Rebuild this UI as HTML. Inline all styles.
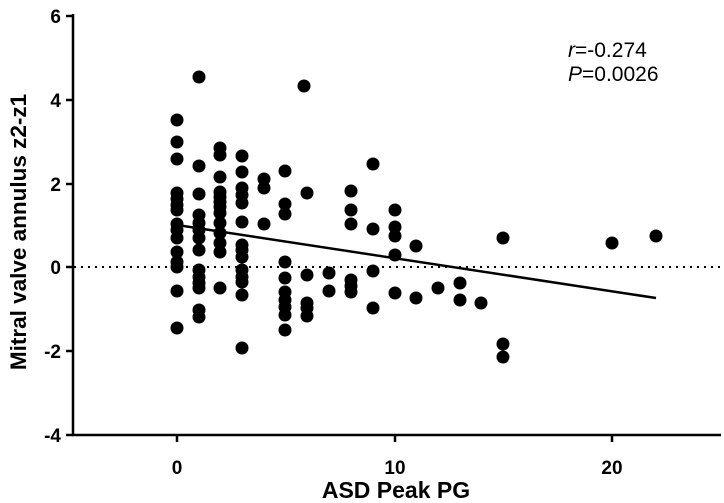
<!DOCTYPE html>
<html><head><meta charset="utf-8"><style>
html,body{margin:0;padding:0;background:#fff;}
svg{display:block;}
text{font-family:"Liberation Sans",Arial,sans-serif;}
</style></head><body>
<svg width="724" height="503" viewBox="0 0 724 503" xmlns="http://www.w3.org/2000/svg">
<g stroke="#000" stroke-width="2.5" fill="none">
<line x1="73" y1="14" x2="73" y2="436"/>
<line x1="72" y1="435" x2="721" y2="435"/>
<line x1="66" y1="16" x2="73" y2="16"/>
<line x1="66" y1="100" x2="73" y2="100"/>
<line x1="66" y1="184" x2="73" y2="184"/>
<line x1="66" y1="267" x2="73" y2="267"/>
<line x1="66" y1="351" x2="73" y2="351"/>
<line x1="66" y1="435" x2="73" y2="435"/>
<line x1="177" y1="435" x2="177" y2="442"/>
<line x1="395" y1="435" x2="395" y2="442"/>
<line x1="612" y1="435" x2="612" y2="442"/>
</g>
<line x1="74" y1="267" x2="720" y2="267" stroke="#000" stroke-width="2" stroke-dasharray="2,5"/>
<line x1="177" y1="225" x2="656" y2="298" stroke="#000" stroke-width="2.5"/>
<g font-weight="bold" font-size="19" text-anchor="end">
<text x="61" y="23">6</text><text x="61" y="107">4</text><text x="61" y="191">2</text>
<text x="61" y="274">0</text><text x="61" y="358">-2</text><text x="61" y="442">-4</text>
</g>
<g font-weight="bold" font-size="19" text-anchor="middle">
<text x="177" y="474">0</text><text x="395" y="474">10</text><text x="612" y="474">20</text>
<text x="396" y="498" font-size="23">ASD Peak PG</text>
<text transform="translate(26,232) rotate(-90)" font-size="22.5">Mitral valve annulus z2-z1</text>
</g>
<text x="568" y="57" font-size="21"><tspan font-style="italic">r</tspan>=-0.274</text>
<text x="568" y="81" font-size="21"><tspan font-style="italic">P</tspan>=0.0026</text>
<g fill="#000">
<circle cx="177" cy="120" r="6.5"/><circle cx="177" cy="142" r="6.5"/><circle cx="177" cy="159" r="6.5"/>
<circle cx="177" cy="193" r="6.5"/><circle cx="177" cy="199" r="6.5"/><circle cx="177" cy="205" r="6.5"/><circle cx="177" cy="210" r="6.5"/>
<circle cx="177" cy="224" r="6.5"/><circle cx="177" cy="230" r="6.5"/><circle cx="177" cy="238" r="6.5"/><circle cx="177" cy="252" r="6.5"/>
<circle cx="177" cy="262" r="6.5"/><circle cx="177" cy="267" r="6.5"/><circle cx="177" cy="291" r="6.5"/><circle cx="177" cy="328" r="6.5"/>
<circle cx="199" cy="77" r="6.5"/><circle cx="199" cy="166" r="6.5"/><circle cx="199" cy="194" r="6.5"/><circle cx="199" cy="215" r="6.5"/>
<circle cx="199" cy="223" r="6.5"/><circle cx="199" cy="230" r="6.5"/><circle cx="199" cy="238" r="6.5"/><circle cx="199" cy="250" r="6.5"/>
<circle cx="199" cy="270" r="6.5"/><circle cx="199" cy="277" r="6.5"/><circle cx="199" cy="283" r="6.5"/><circle cx="199" cy="288" r="6.5"/>
<circle cx="199" cy="310" r="6.5"/><circle cx="199" cy="317" r="6.5"/>
<circle cx="220" cy="148" r="6.5"/><circle cx="220" cy="155" r="6.5"/><circle cx="220" cy="177" r="6.5"/><circle cx="220" cy="192" r="6.5"/>
<circle cx="220" cy="197" r="6.5"/><circle cx="220" cy="202" r="6.5"/><circle cx="220" cy="207" r="6.5"/><circle cx="220" cy="213" r="6.5"/>
<circle cx="220" cy="223" r="6.5"/><circle cx="220" cy="233" r="6.5"/><circle cx="220" cy="243" r="6.5"/><circle cx="220" cy="252" r="6.5"/><circle cx="220" cy="288" r="6.5"/>
<circle cx="242" cy="156" r="6.5"/><circle cx="242" cy="172" r="6.5"/><circle cx="242" cy="188" r="6.5"/><circle cx="242" cy="195" r="6.5"/>
<circle cx="242" cy="203" r="6.5"/><circle cx="242" cy="222" r="6.5"/><circle cx="242" cy="245" r="6.5"/><circle cx="242" cy="250" r="6.5"/>
<circle cx="242" cy="257" r="6.5"/><circle cx="242" cy="270" r="6.5"/><circle cx="242" cy="277" r="6.5"/><circle cx="242" cy="282" r="6.5"/>
<circle cx="242" cy="295" r="6.5"/><circle cx="242" cy="348" r="6.5"/>
<circle cx="264" cy="179" r="6.5"/><circle cx="264" cy="188" r="6.5"/><circle cx="264" cy="224" r="6.5"/>
<circle cx="285" cy="171" r="6.5"/><circle cx="285" cy="204" r="6.5"/><circle cx="285" cy="214" r="6.5"/><circle cx="285" cy="262" r="6.5"/>
<circle cx="285" cy="278" r="6.5"/><circle cx="285" cy="292" r="6.5"/><circle cx="285" cy="300" r="6.5"/><circle cx="285" cy="307" r="6.5"/>
<circle cx="285" cy="315" r="6.5"/><circle cx="285" cy="330" r="6.5"/>
<circle cx="304" cy="86" r="6.5"/><circle cx="307" cy="193" r="6.5"/><circle cx="307" cy="275" r="6.5"/><circle cx="307" cy="303" r="6.5"/><circle cx="307" cy="308" r="6.5"/><circle cx="307" cy="316" r="6.5"/>
<circle cx="329" cy="273" r="6.5"/><circle cx="329" cy="291" r="6.5"/>
<circle cx="351" cy="191" r="6.5"/><circle cx="351" cy="210" r="6.5"/><circle cx="351" cy="224" r="6.5"/>
<circle cx="351" cy="280" r="6.5"/><circle cx="351" cy="286" r="6.5"/><circle cx="351" cy="292" r="6.5"/>
<circle cx="373" cy="164" r="6.5"/><circle cx="373" cy="229" r="6.5"/><circle cx="373" cy="271" r="6.5"/><circle cx="373" cy="308" r="6.5"/>
<circle cx="395" cy="210" r="6.5"/><circle cx="395" cy="227" r="6.5"/><circle cx="395" cy="236" r="6.5"/><circle cx="395" cy="255" r="6.5"/><circle cx="395" cy="293" r="6.5"/>
<circle cx="416" cy="246" r="6.5"/><circle cx="416" cy="298" r="6.5"/>
<circle cx="438" cy="288" r="6.5"/>
<circle cx="460" cy="283" r="6.5"/><circle cx="460" cy="300" r="6.5"/>
<circle cx="481" cy="303" r="6.5"/>
<circle cx="503" cy="238" r="6.5"/><circle cx="503" cy="344" r="6.5"/><circle cx="503" cy="357" r="6.5"/>
<circle cx="612" cy="243" r="6.5"/><circle cx="656" cy="236" r="6.5"/>
</g>
</svg>
</body></html>
